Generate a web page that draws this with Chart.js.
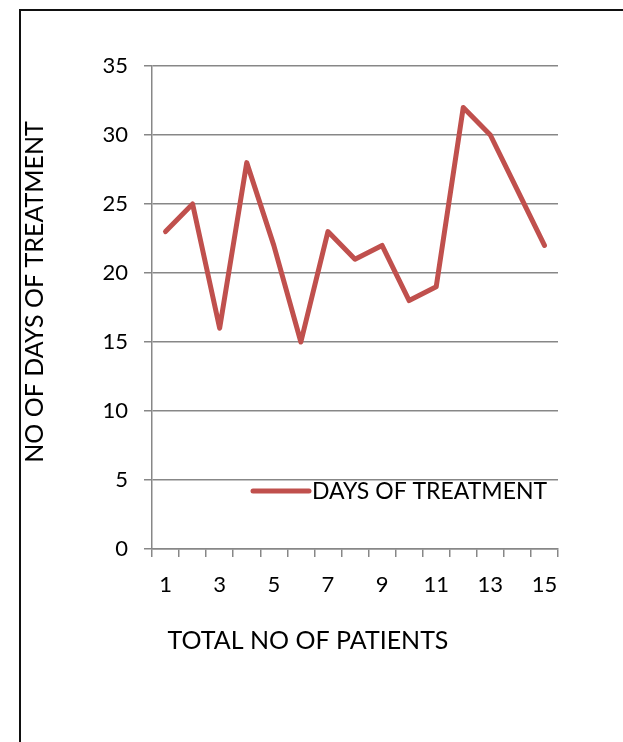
<!DOCTYPE html>
<html>
<head>
<meta charset="utf-8">
<script src="https://cdn.jsdelivr.net/npm/chart.js@4"></script>
<style>
  html, body { margin: 0; padding: 0; background: #fff; }
  #wrap { position: relative; width: 623px; height: 742px; overflow: hidden; }
  #frame { position: absolute; left: 19px; top: 9px; width: 800px; height: 900px;
           border-left: 2px solid #111; border-top: 2px solid #111; box-sizing: border-box; }
  canvas { position: absolute; left: 0; top: 0; }
</style>
</head>
<body>
<div id="wrap">
  <div id="frame"></div>
  <canvas id="c" width="623" height="742"></canvas>
</div>
<script>
const categories = ['1','2','3','4','5','6','7','8','9','10','11','12','13','14','15'];
const daysOfTreatment = [23, 25, 16, 28, 22, 15, 23, 21, 22, 18, 19, 32, 30, 26, 22];
const seriesLabel = 'DAYS OF TREATMENT';
const xTitle = 'TOTAL NO OF PATIENTS';
const yTitle = 'NO OF DAYS OF TREATMENT';
const yMin = 0, yMax = 35, yStep = 5;

const FONT = 'Lato, "Open Sans", sans-serif';
const GRID = '#878787';

const legendInside = {
  id: 'legendInside',
  afterDraw(chart) {
    const ds = chart.data.datasets[0];
    const ca = chart.chartArea;
    const ctx = chart.ctx;
    const y = ca.bottom - 58;
    const x0 = ca.right - 305;
    ctx.save();
    ctx.strokeStyle = ds.borderColor;
    ctx.lineWidth = 5;
    ctx.lineCap = 'round';
    ctx.beginPath();
    ctx.moveTo(x0, y);
    ctx.lineTo(x0 + 56, y);
    ctx.stroke();
    ctx.fillStyle = '#000';
    ctx.font = '23px ' + FONT;
    ctx.textBaseline = 'middle';
    ctx.textAlign = 'left';
    ctx.fillText(ds.label, x0 + 59, y + 1);
    ctx.restore();
  }
};

const axisTitles = {
  id: 'axisTitles',
  afterDraw(chart) {
    const ctx = chart.ctx;
    ctx.save();
    ctx.fillStyle = '#000';
    ctx.font = '25px ' + FONT;
    ctx.textAlign = 'center';
    ctx.textBaseline = 'middle';
    ctx.fillText(xTitle, 308, 641);
    ctx.translate(35, 292);
    ctx.rotate(-Math.PI / 2);
    ctx.fillText(yTitle, 0, 0);
    ctx.restore();
  }
};

new Chart(document.getElementById('c'), {
  type: 'line',
  data: {
    labels: categories,
    datasets: [{
      label: seriesLabel,
      data: daysOfTreatment,
      borderColor: '#c0504d',
      backgroundColor: '#c0504d',
      borderWidth: 5,
      borderJoinStyle: 'round',
      borderCapStyle: 'round',
      pointRadius: 0,
      tension: 0,
      fill: false
    }]
  },
  options: {
    responsive: false,
    animation: false,
    devicePixelRatio: 1,
    layout: { padding: { left: 0, top: 66, right: 65, bottom: 0 } },
    plugins: { legend: { display: false }, tooltip: { enabled: false } },
    scales: {
      x: {
        type: 'category',
        offset: true,
        afterFit(s) { s.height = 193; },
        grid: { display: true, drawOnChartArea: false, drawTicks: true, tickLength: 8, offset: true, color: GRID, lineWidth: 1.5 },
        border: { display: true, color: GRID, width: 1.5 },
        ticks: {
          autoSkip: false, maxRotation: 0, padding: 15, color: '#000',
          font: { family: FONT, size: 22 },
          callback(v, i) { return i % 2 === 0 ? this.getLabelForValue(v) : ''; }
        },
        title: { display: false, text: xTitle }
      },
      y: {
        min: yMin, max: yMax,
        afterFit(s) { s.width = 152; },
        grid: { color: GRID, lineWidth: 1.5, drawTicks: true, tickLength: 8 },
        border: { display: true, color: GRID, width: 1.5 },
        ticks: { stepSize: yStep, padding: 16, color: '#000', font: { family: FONT, size: 22 } },
        title: { display: false, text: yTitle }
      }
    }
  },
  plugins: [legendInside, axisTitles]
});
</script>
</body>
</html>
